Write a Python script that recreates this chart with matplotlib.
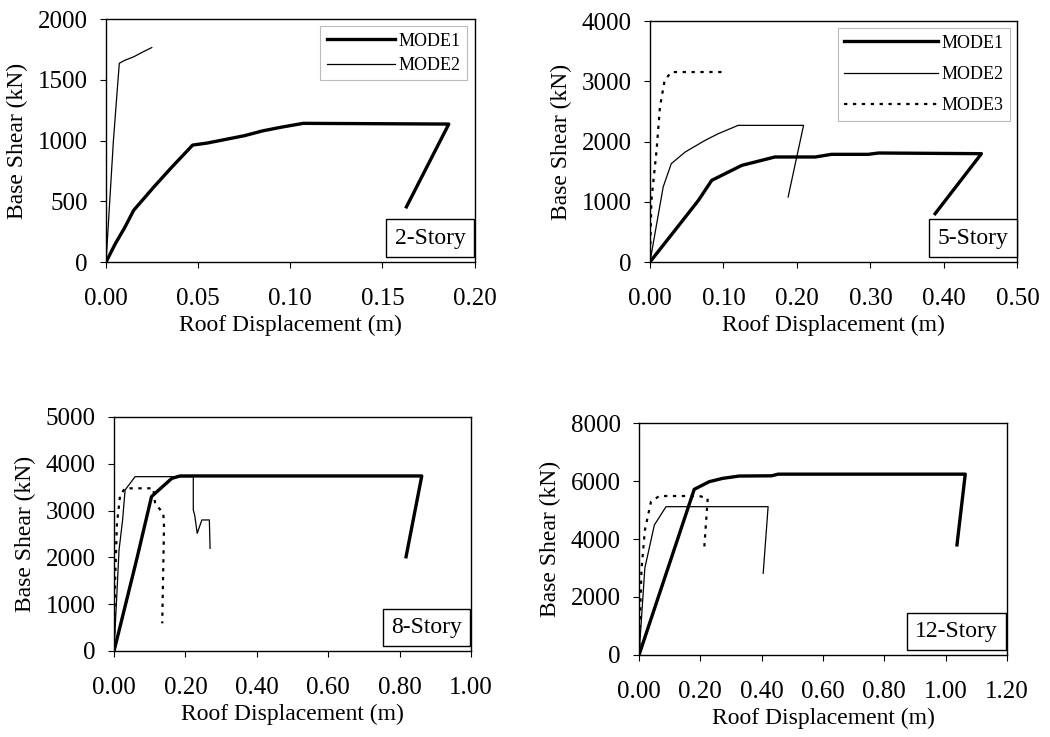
import matplotlib.pyplot as plt

plt.rcParams['font.family'] = ['Liberation Serif', 'DejaVu Serif']

# 2-story
s2_m1_x = [0, 0.005, 0.010, 0.015, 0.026, 0.035, 0.047, 0.055, 0.065, 0.075, 0.085, 0.095, 0.107, 0.186, 0.163]
s2_m1_y = [0, 150, 280, 426, 619, 770, 963, 980, 1010, 1040, 1080, 1110, 1142, 1136, 454]
s2_m2_x = [0, 0.002, 0.004, 0.0058, 0.0072, 0.010, 0.015, 0.020, 0.0248]
s2_m2_y = [0, 500, 1000, 1362, 1637, 1660, 1690, 1730, 1766]

# 5-story
s5_m1_x = [0, 0.034, 0.066, 0.084, 0.125, 0.170, 0.225, 0.247, 0.297, 0.311, 0.451, 0.388]
s5_m1_y = [0, 526, 1024, 1355, 1604, 1743, 1743, 1787, 1787, 1809, 1798, 802]
s5_m2_x = [0, 0.018, 0.029, 0.048, 0.075, 0.093, 0.120, 0.209, 0.188]
s5_m2_y = [0, 1245, 1632, 1826, 2019, 2130, 2268, 2268, 1079]
s5_m3_x = [0, 0.002, 0.009, 0.0136, 0.020, 0.029, 0.102]
s5_m3_y = [0, 1024, 1853, 2573, 3015, 3153, 3153]

# 8-story
s8_m1_x = [0, 0.063, 0.105, 0.115, 0.162, 0.185, 0.862, 0.818]
s8_m1_y = [0, 1942, 3298, 3369, 3689, 3740, 3740, 2013]
s8_m2_x = [0, 0.014, 0.024, 0.031, 0.059, 0.222, 0.222, 0.226, 0.233, 0.246, 0.267, 0.269]
s8_m2_y = [0, 2155, 2800, 3440, 3725, 3725, 3013, 2900, 2514, 2800, 2800, 2194]
s8_m3_x = [0, 0.003, 0.008, 0.017, 0.031, 0.110, 0.115, 0.138, 0.140, 0.135]
s8_m3_y = [0, 1500, 2700, 3333, 3476, 3476, 3155, 2940, 2657, 591]

# 12-story
s12_m1_x = [0, 0.180, 0.229, 0.273, 0.327, 0.432, 0.454, 1.064, 1.037]
s12_m1_y = [0, 5713, 5977, 6092, 6172, 6180, 6237, 6237, 3797]
s12_m2_x = [0, 0.019, 0.050, 0.088, 0.421, 0.405]
s12_m2_y = [0, 3000, 4483, 5115, 5115, 2819]
s12_m3_x = [0, 0.008, 0.019, 0.039, 0.066, 0.197, 0.224, 0.213]
s12_m3_y = [0, 2934, 4300, 5287, 5483, 5483, 5402, 3736]

fig = plt.figure(figsize=(10.5, 7.37), dpi=100)

positions = [
    [0.101, 0.6445, 0.351, 0.3295],
    [0.619, 0.6445, 0.350, 0.327],
    [0.1086, 0.1167, 0.340, 0.3175],
    [0.6086, 0.1113, 0.3504, 0.3147],
]

panels = [
    dict(xlim=0.20, xstep=0.05, ylim=2000, ystep=500, label='2-Story',
         m1=(s2_m1_x, s2_m1_y), m2=(s2_m2_x, s2_m2_y), m3=None, legend=True),
    dict(xlim=0.50, xstep=0.10, ylim=4000, ystep=1000, label='5-Story',
         m1=(s5_m1_x, s5_m1_y), m2=(s5_m2_x, s5_m2_y), m3=(s5_m3_x, s5_m3_y), legend=True),
    dict(xlim=1.00, xstep=0.20, ylim=5000, ystep=1000, label='8-Story',
         m1=(s8_m1_x, s8_m1_y), m2=(s8_m2_x, s8_m2_y), m3=(s8_m3_x, s8_m3_y), legend=False),
    dict(xlim=1.20, xstep=0.20, ylim=8000, ystep=2000, label='12-Story',
         m1=(s12_m1_x, s12_m1_y), m2=(s12_m2_x, s12_m2_y), m3=(s12_m3_x, s12_m3_y), legend=False),
]

for pos, p in zip(positions, panels):
    ax = fig.add_axes(pos)
    ax.plot(*p['m1'], color='black', lw=2.4, label='MODE1', solid_joinstyle='round')
    ax.plot(*p['m2'], color='black', lw=0.9, label='MODE2')
    if p['m3'] is not None:
        ax.plot(*p['m3'], color='black', lw=1.6, ls=(0, (1.5, 2.5)), label='MODE3')
    ax.set_xlim(0, p['xlim'])
    ax.set_ylim(0, p['ylim'])
    nx = int(round(p['xlim'] / p['xstep']))
    ax.set_xticks([i * p['xstep'] for i in range(nx + 1)])
    ax.set_xticklabels([f'{i * p["xstep"]:.2f}' for i in range(nx + 1)])
    ny = int(round(p['ylim'] / p['ystep']))
    ax.set_yticks([i * p['ystep'] for i in range(ny + 1)])
    ax.tick_params(labelsize=18, length=4, width=0.8, direction='out')
    ax.tick_params(axis='x', pad=15)
    ax.tick_params(axis='y', pad=9)
    ax.set_xlabel('Roof Displacement (m)', fontsize=17, labelpad=3)
    ax.set_ylabel('Base Shear (kN)', fontsize=17, labelpad=7)
    for sp in ax.spines.values():
        sp.set_linewidth(1.0)
    ax.text(0.975, 0.055, p['label'], transform=ax.transAxes, ha='right', va='bottom',
            fontsize=17, bbox=dict(boxstyle='square,pad=0.35', fc='white', ec='black', lw=1.0))
    if p['legend']:
        leg = ax.legend(loc='upper right', fontsize=13, frameon=True, fancybox=False,
                        handlelength=3.8 if p['m3'] is None else 5.2,
                        labelspacing=0.4 if p['m3'] is None else 0.8,
                        borderaxespad=0.4, handletextpad=0.2, borderpad=0.35)
        leg.get_frame().set_edgecolor('#aaaaaa')
        leg.get_frame().set_linewidth(0.8)

fig.savefig('out.png', dpi=100)
